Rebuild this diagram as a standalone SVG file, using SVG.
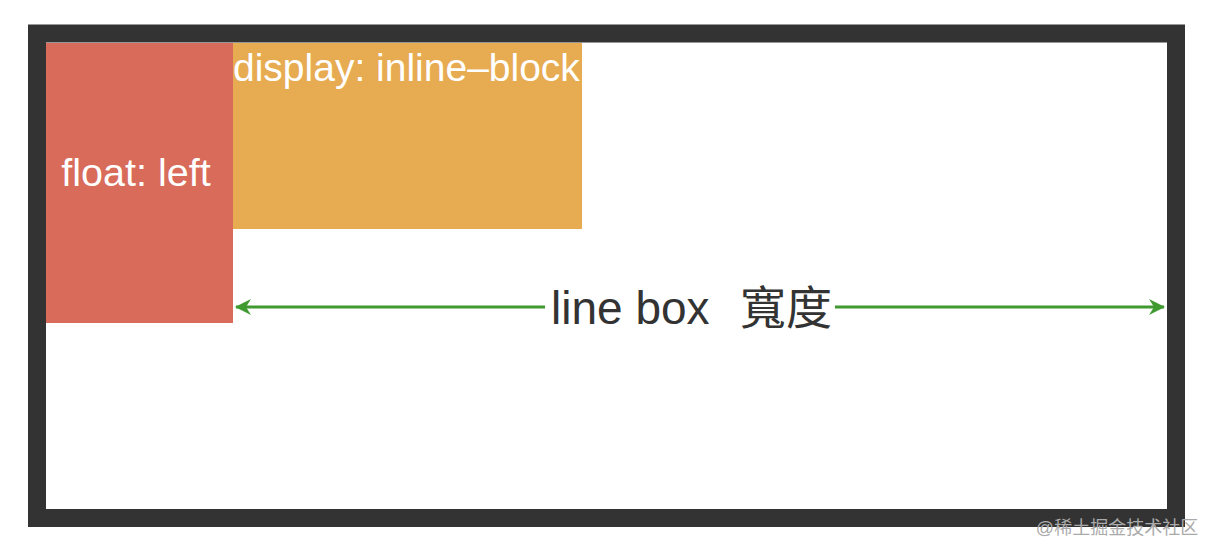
<svg xmlns="http://www.w3.org/2000/svg" width="1216" height="556" viewBox="0 0 1216 556">
<style>
.lbl{font-family:"Liberation Sans","Noto Sans CJK SC",sans-serif;}
.w{fill:#ffffff;}
.conn{stroke:#3f9a2f;stroke-width:3;fill:none;}
</style>
<defs>
<marker id="ah" viewBox="0 0 16 16" refX="15" refY="8" markerWidth="16" markerHeight="16" markerUnits="userSpaceOnUse" orient="auto-start-reverse">
<path d="M0,0 L16,8 L0,16 L5,8 Z" fill="#3f9a2f"/>
</marker>
</defs>
<rect width="1216" height="556" fill="#ffffff"/>
<g id="frame">
<rect x="37" y="33.5" width="1139" height="484.5" fill="#ffffff" stroke="#333333" stroke-width="18"/>
</g>
<g id="float">
<rect x="46" y="43" width="187" height="280" fill="#d86b5a"/>
<text class="lbl w" x="136" y="186" font-size="39.5" text-anchor="middle">float: left</text>
</g>
<g id="inline-block">
<rect x="233" y="43" width="349" height="186" fill="#e7ab51"/>
<text class="lbl w" x="233" y="81" font-size="39">display: inline–block</text>
</g>
<g id="connectors">
<line class="conn" x1="236" y1="307" x2="545" y2="307" marker-start="url(#ah)"/>
<line class="conn" x1="835" y1="307" x2="1164" y2="307" marker-end="url(#ah)"/>
</g>
<g id="label">
<text class="lbl" x="551" y="324" font-size="46" fill="#333333">line box</text>
<text class="lbl" x="740" y="324" font-size="46" fill="#333333">寬度</text>
</g>
<text class="lbl" x="1117" y="534" font-size="18" fill="#aaaaaa" text-anchor="middle">@稀土掘金技术社区</text>
</svg>
